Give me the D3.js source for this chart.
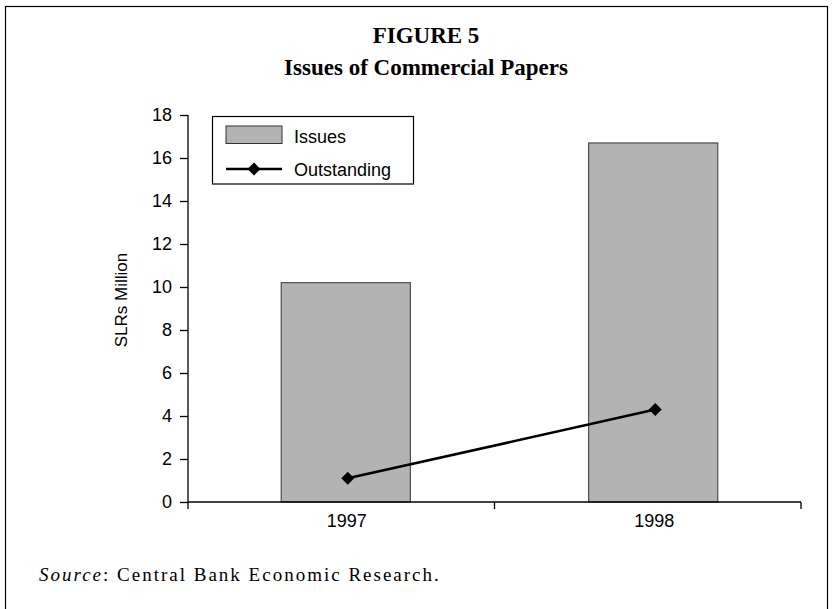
<!DOCTYPE html>
<html>
<head>
<meta charset="utf-8">
<script src="https://cdn.jsdelivr.net/npm/d3@7"></script>
<style>
  html, body { margin: 0; padding: 0; background: #fff; }
  svg { display: block; }
</style>
</head>
<body>
<svg id="chart" width="834" height="609"></svg>
<script>
// ---- data ----
const categories = ["1997", "1998"];
const issues = [10.2, 16.7];
const outstanding = [1.1, 4.3];
const yTicks = [0, 2, 4, 6, 8, 10, 12, 14, 16, 18];
const titleLines = ["FIGURE 5", "Issues of Commercial Papers"];
const yLabel = "SLRs Million";
const seriesNames = ["Issues", "Outstanding"];

// ---- layout ----
const svg = d3.select("#chart");
const plot = { left: 188, right: 801, top: 115, bottom: 502 };
const sans = "'Liberation Sans', Arial, sans-serif";
const serif = "'Liberation Serif', 'Times New Roman', serif";

// frame
svg.append("rect")
  .attr("x", 5.5).attr("y", 6.5).attr("width", 822).attr("height", 620)
  .attr("fill", "none").attr("stroke", "#000").attr("stroke-width", 1.2);

// title
svg.append("text").attr("x", 426).attr("y", 43)
  .attr("text-anchor", "middle").attr("font-family", serif)
  .attr("font-weight", "bold").attr("font-size", 23).text(titleLines[0]);
svg.append("text").attr("x", 426).attr("y", 75)
  .attr("text-anchor", "middle").attr("font-family", serif)
  .attr("font-weight", "bold").attr("font-size", 23).text(titleLines[1]);

// scales
const y = d3.scaleLinear().domain([0, 18]).range([plot.bottom, plot.top]);
const xAxisScale = d3.scaleBand().domain(categories).range([plot.left, plot.right]);
const x = d3.scaleBand().domain(categories).range([plot.left + 4, plot.right + 6])
  .paddingInner(0.58).paddingOuter(0.29);
const xc = d => x(d) + x.bandwidth() / 2;

// bars
svg.append("g").selectAll("rect").data(categories).join("rect")
  .attr("x", d => x(d))
  .attr("y", (d, i) => y(issues[i]))
  .attr("width", x.bandwidth())
  .attr("height", (d, i) => y(0) - y(issues[i]))
  .attr("fill", "#b3b3b3").attr("stroke", "#333").attr("stroke-width", 1);

// y axis
const yAxis = d3.axisLeft(y).tickValues(yTicks).tickSize(8).tickPadding(8);
const gy = svg.append("g").attr("transform", `translate(${plot.left},0)`).call(yAxis);
gy.select(".domain").attr("stroke", "#000").attr("stroke-width", 1.3).attr("d", `M-0,${plot.top}V${plot.bottom}`);
gy.selectAll(".tick line").attr("stroke", "#000").attr("stroke-width", 1.3);
gy.selectAll(".tick text").attr("font-family", sans).attr("font-size", 18).attr("fill", "#000");

// x axis
const gx = svg.append("g").attr("transform", `translate(0,${plot.bottom})`);
gx.append("line").attr("x1", plot.left).attr("x2", plot.right)
  .attr("stroke", "#000").attr("stroke-width", 1.3);
const boundaries = categories.map(c => xAxisScale(c)).concat([xAxisScale(categories[categories.length - 1]) + xAxisScale.bandwidth()]);
gx.selectAll("line.tk").data(boundaries).join("line").attr("class", "tk")
  .attr("x1", d => d).attr("x2", d => d).attr("y1", 0).attr("y2", 7)
  .attr("stroke", "#000").attr("stroke-width", 1.3);
gx.selectAll("text").data(categories).join("text")
  .attr("x", d => xc(d) + 1).attr("y", 25)
  .attr("text-anchor", "middle").attr("font-family", sans).attr("font-size", 18)
  .text(d => d);

// y label
svg.append("text")
  .attr("transform", `translate(127,300) rotate(-90)`)
  .attr("text-anchor", "middle").attr("font-family", sans).attr("font-size", 17)
  .text(yLabel);

// line series
const line = d3.line().x((d, i) => xc(categories[i]) + 2).y(d => y(d));
svg.append("path").datum(outstanding).attr("d", line)
  .attr("fill", "none").attr("stroke", "#000").attr("stroke-width", 2.6);
svg.append("g").selectAll("path").data(outstanding).join("path")
  .attr("transform", (d, i) => `translate(${xc(categories[i]) + 2},${y(d)}) rotate(45)`)
  .attr("d", d3.symbol().type(d3.symbolSquare).size(85)())
  .attr("fill", "#000");

// legend
const lg = svg.append("g");
lg.append("rect").attr("x", 212.5).attr("y", 116.5).attr("width", 201).attr("height", 67.5)
  .attr("fill", "#fff").attr("stroke", "#000").attr("stroke-width", 1.2);
lg.append("rect").attr("x", 226).attr("y", 126).attr("width", 56).attr("height", 17.5)
  .attr("fill", "#b3b3b3").attr("stroke", "#333").attr("stroke-width", 1);
lg.append("text").attr("x", 294).attr("y", 143).attr("font-family", sans).attr("font-size", 18).text(seriesNames[0]);
lg.append("line").attr("x1", 226).attr("x2", 282).attr("y1", 169).attr("y2", 169)
  .attr("stroke", "#000").attr("stroke-width", 2.6);
lg.append("path").attr("transform", "translate(254,169) rotate(45)")
  .attr("d", d3.symbol().type(d3.symbolSquare).size(85)()).attr("fill", "#000");
lg.append("text").attr("x", 294).attr("y", 175.5).attr("font-family", sans).attr("font-size", 18).text(seriesNames[1]);

// source
const src = svg.append("text").attr("x", 39).attr("y", 581)
  .attr("font-family", serif).attr("font-size", 19).attr("letter-spacing", 2);
src.append("tspan").attr("font-style", "italic").text("Source");
src.append("tspan").text(": Central Bank Economic Research.");
</script>
</body>
</html>
